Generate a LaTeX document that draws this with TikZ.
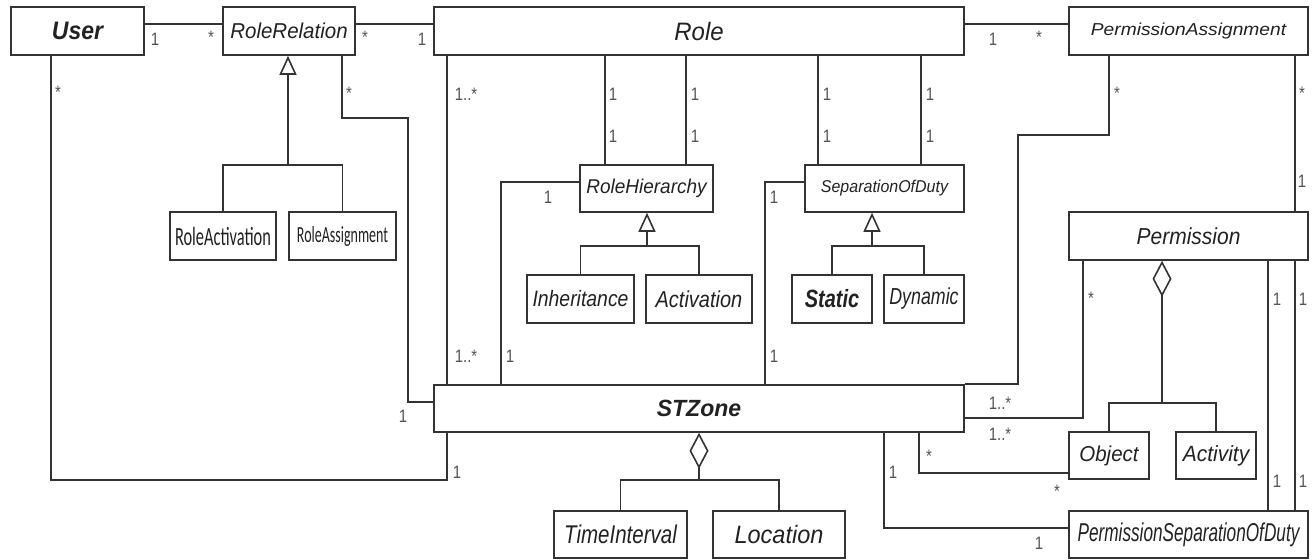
\documentclass[tikz,border=0pt]{standalone}
\usepackage{fontspec}
\usepackage{graphicx}
\setsansfont{Liberation Sans}
\newfontfamily\calibfont{Carlito}
\usetikzlibrary{arrows.meta}

\definecolor{linegray}{HTML}{333333}
\definecolor{txtgray}{HTML}{222222}
\definecolor{mulgray}{HTML}{555555}

\newcommand{\fsz}[1]{\fontsize{#1}{#1}\selectfont}
\newcommand{\vs}[2]{\scalebox{1}[#1]{#2}}

\tikzset{
  cls/.style={draw=linegray, line width=1.6pt, inner sep=0pt, minimum height=48pt,
    text=txtgray, font=\sffamily\itshape},
  mul/.style={inner sep=0pt, anchor=base, text=mulgray, font=\sffamily\fsz{15}},
  gen/.style={-{Triangle[open,length=19pt,width=17pt]}},
  agg/.style={-{Diamond[open,length=36pt,width=19pt]}},
}

\begin{document}
\begin{tikzpicture}[x=1pt,y=-1pt,line width=1.6pt,color=linegray,line join=miter]
  \useasboundingbox (0,0) rectangle (1313,559);
  % top row
  \node[cls, minimum width=133pt] (user) at (77.5,31) {\fsz{23}\bfseries\vs{1.1}{User}};
  \node[cls, minimum width=132pt] (rr) at (289,31) {\fsz{20.5}\vs{1.05}{RoleRelation}};
  \node[cls, minimum width=530pt] (role) at (699,31) {\fsz{24}\vs{1.05}{Role}};
  \node[cls, minimum width=239pt] (pa) at (1188.5,31) {\fsz{19.2}\vs{0.9}{PermissionAssignment}};
  % role relations
  \node[cls, minimum width=106pt, font=\calibfont] (ract) at (223,236) {\fsz{16.4}\vs{1.6}{RoleActivation}};
  \node[cls, minimum width=107pt, font=\calibfont] (rass) at (342.5,236) {\fsz{14}\vs{1.65}{RoleAssignment}};
  % hierarchy and duty
  \node[cls, minimum width=133pt, minimum height=47pt] (rh) at (646.5,188.5) {\fsz{19}\vs{1.05}{RoleHierarchy}};
  \node[cls, minimum width=159pt, minimum height=47pt] (sod) at (884.5,188.5) {\fsz{16}\vs{1.07}{SeparationOfDuty}};
  \node[cls, minimum width=107pt] (inh) at (580.5,299) {\fsz{19.4}\vs{1.15}{Inheritance}};
  \node[cls, minimum width=106pt] (act) at (699,299) {\fsz{20}\vs{1.15}{Activation}};
  \node[cls, minimum width=80pt] (stat) at (832,299) {\fsz{20}\bfseries\vs{1.25}{Static}};
  \node[cls, minimum width=80pt] (dyn) at (924,299) {\fsz{17.8}\vs{1.3}{Dynamic}};
  % permissions
  \node[cls, minimum width=239pt] (perm) at (1188.5,236) {\fsz{21}\vs{1.1}{Permission}};
  \node[cls, minimum width=80pt, minimum height=47pt] (obj) at (1109,455.5) {\fsz{20.5}\vs{1.05}{Object}};
  \node[cls, minimum width=80pt, minimum height=47pt] (acty) at (1216,455.5) {\fsz{21}\vs{1.05}{Activity}};
  \node[cls, minimum width=239pt, minimum height=47pt] (psod) at (1188.5,534.5) {\fsz{17.2}\vs{1.5}{PermissionSeparationOfDuty}};
  % zone
  \node[cls, minimum width=530pt, minimum height=47pt] (stz) at (699,408.5) {\fsz{23}\bfseries\vs{1.02}{STZone}};
  \node[cls, minimum width=133pt, minimum height=47pt] (ti) at (620.5,534.5) {\fsz{20.5}\vs{1.25}{TimeInterval}};
  \node[cls, minimum width=132pt, minimum height=47pt] (loc) at (779,534.5) {\fsz{23.5}\vs{1.07}{Location}};

  % associations along the top
  \draw (user.east |- 0,24) -- (rr.west |- 0,24);
  \draw (rr.east |- 0,24) -- (role.west |- 0,24);
  \draw (role.east |- 0,24) -- (pa.west |- 0,24);
  % to the zone
  \coordinate (ucorner) at (51,480);
  \draw (user.south -| ucorner) -- (ucorner) -| (stz.south -| 447,0);
  \draw (rr.south -| 342,0) |- (408,118) |- (stz.west |- 0,402);
  \draw (role.south -| 447,0) -- (stz.north -| 447,0);
  \draw (rh.west |- 0,182) -| (stz.north -| 501,0);
  \draw (sod.west |- 0,182) -| (stz.north -| 765,0);
  \draw (pa.south -| 1109,0) |- (1018,135) |- (stz.north east);
  \draw (perm.south -| 1083,0) |- (stz.east |- 0,418);
  \draw (stz.south -| 919,0) |- (obj.west |- 0,473);
  \draw (stz.south -| 884,0) |- (psod.west |- 0,528);
  % role to hierarchy and duty
  \draw (role.south -| 605,0) -- (rh.north -| 605,0);
  \draw (role.south -| 686,0) -- (rh.north -| 686,0);
  \draw (role.south -| 818,0) -- (sod.north -| 818,0);
  \draw (role.south -| 921,0) -- (sod.north -| 921,0);
  % permission links
  \draw (pa.south -| 1295,0) -- (perm.north -| 1295,0);
  \draw (perm.south -| 1268,0) -- (psod.north -| 1268,0);
  \draw (perm.south -| 1295,0) -- (psod.north -| 1295,0);

  % generalisations
  \coordinate (rrj) at (288,165);
  \draw (ract.north) |- (rass.north |- rrj) -- (rass.north);
  \draw[gen] (rrj) -- (rr.south -| rrj);
  \coordinate (rhj) at (647,246);
  \draw (inh.north) |- (act.north |- rhj) -- (act.north);
  \draw[gen] (rhj) -- (rh.south -| rhj);
  \coordinate (sodj) at (872,246);
  \draw (stat.north) |- (dyn.north |- sodj) -- (dyn.north);
  \draw[gen] (sodj) -- (sod.south -| sodj);
  % aggregations
  \coordinate (stzj) at (699,480);
  \draw (ti.north) |- (loc.north |- stzj) -- (loc.north);
  \draw[agg] (stzj) -- (stz.south -| stzj);
  \coordinate (permj) at (1162,403);
  \draw (obj.north) |- (acty.north |- permj) -- (acty.north);
  \draw[agg] (permj) -- (perm.south -| permj);

  % multiplicities
  \node[mul] (m1) at (155,46) {\vs{1.2}{1}};
  \node[mul] (m2) at (211,44) {\vs{1.2}{*}};
  \node[mul] (m3) at (365,44) {\vs{1.2}{*}};
  \node[mul] (m4) at (422,46) {\vs{1.2}{1}};
  \node[mul] (m5) at (993,46) {\vs{1.2}{1}};
  \node[mul] (m6) at (1039,44) {\vs{1.2}{*}};
  \node[mul] (m7) at (58,99) {\vs{1.2}{*}};
  \node[mul] (m8) at (349,100) {\vs{1.2}{*}};
  \node[mul] (m9) at (466,101) {\vs{1.2}{1..*}};
  \node[mul] (m10) at (466,362) {\vs{1.2}{1..*}};
  \node[mul] (m11) at (613,101) {\vs{1.2}{1}};
  \node[mul] (m12) at (613,142) {\vs{1.2}{1}};
  \node[mul] (m13) at (695,101) {\vs{1.2}{1}};
  \node[mul] (m14) at (695,142) {\vs{1.2}{1}};
  \node[mul] (m15) at (827,101) {\vs{1.2}{1}};
  \node[mul] (m16) at (827,142) {\vs{1.2}{1}};
  \node[mul] (m17) at (930,101) {\vs{1.2}{1}};
  \node[mul] (m18) at (930,142) {\vs{1.2}{1}};
  \node[mul] (m19) at (548,203) {\vs{1.2}{1}};
  \node[mul] (m20) at (510,362) {\vs{1.2}{1}};
  \node[mul] (m21) at (774,203) {\vs{1.2}{1}};
  \node[mul] (m22) at (774,362) {\vs{1.2}{1}};
  \node[mul] (m23) at (1117,100) {\vs{1.2}{*}};
  \node[mul] (m24) at (1302,100) {\vs{1.2}{*}};
  \node[mul] (m25) at (1302,187) {\vs{1.2}{1}};
  \node[mul] (m26) at (1091,304) {\vs{1.2}{*}};
  \node[mul] (m27) at (1000,409) {\vs{1.2}{1..*}};
  \node[mul] (m28) at (1000,440) {\vs{1.2}{1..*}};
  \node[mul] (m29) at (929,462) {\vs{1.2}{*}};
  \node[mul] (m30) at (1057,497) {\vs{1.2}{*}};
  \node[mul] (m31) at (893,478) {\vs{1.2}{1}};
  \node[mul] (m32) at (1039,549) {\vs{1.2}{1}};
  \node[mul] (m33) at (1277,305) {\vs{1.2}{1}};
  \node[mul] (m34) at (1303,305) {\vs{1.2}{1}};
  \node[mul] (m35) at (1277,487) {\vs{1.2}{1}};
  \node[mul] (m36) at (1303,487) {\vs{1.2}{1}};
  \node[mul] (m37) at (457,478) {\vs{1.2}{1}};
  \node[mul] (m38) at (403,422) {\vs{1.2}{1}};
\end{tikzpicture}
\end{document}
